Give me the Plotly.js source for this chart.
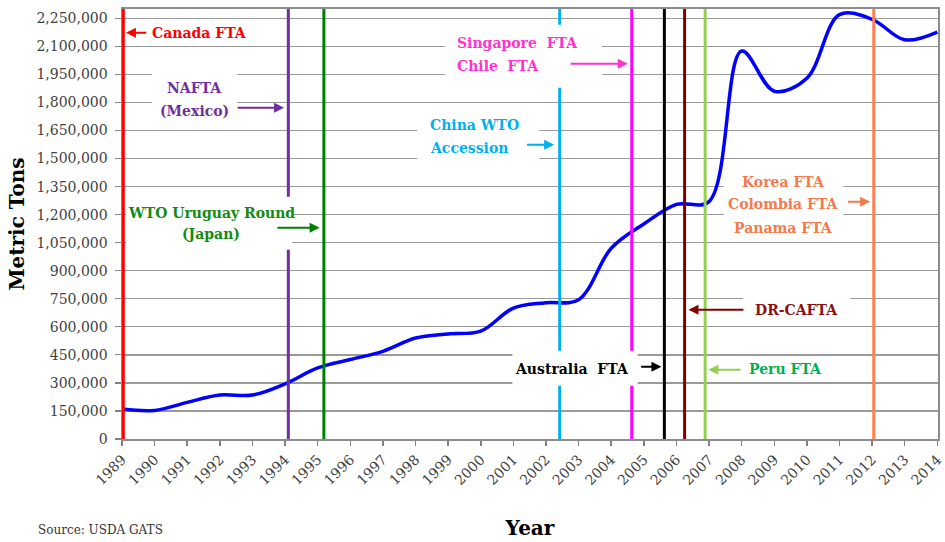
<!DOCTYPE html>
<html>
<head>
<meta charset="utf-8">
<script src="https://cdn.plot.ly/plotly-3.0.1.min.js"></script>
<style>
  html, body { margin: 0; padding: 0; background: #fff; }
  #chart { width: 945px; height: 542px; }
</style>
</head>
<body>
<div id="chart"></div>
<script>
// ---- Data ----
const years = [1989, 1990, 1991, 1992, 1993, 1994, 1995, 1996, 1997, 1998, 1999, 2000, 2001,
               2002, 2003, 2004, 2005, 2006, 2007, 2008, 2009, 2010, 2011, 2012, 2013, 2014];
const metricTons = [160000, 153000, 196000, 235000, 235000, 295000, 380000, 425000, 469000,
                    540000, 562000, 577000, 700000, 729000, 745000, 1020000, 1150000, 1255000,
                    1270000, 2075000, 1860000, 1930000, 2270000, 2245000, 2135000, 2177000];
const yearTickLabels = years.map(String);

// Trade agreement events (vertical lines)
const eventNames  = ['Canada FTA', 'NAFTA (Mexico)', 'WTO Uruguay Round (Japan)', 'China WTO Accession',
                     'Singapore FTA / Chile FTA', 'Australia FTA', 'DR-CAFTA', 'Peru FTA',
                     'Korea FTA / Colombia FTA / Panama FTA'];
const eventYears  = [1989.04, 1994.1, 1995.19, 2002.42, 2004.63, 2005.63, 2006.25, 2006.88, 2012.05];
const eventColors = ['#ff0000', '#7030a0', '#008000', '#00b0f0', '#ff00ff', '#000000', '#800000', '#92d050', '#ff7f50'];

const yTickStep = 150000;
const FONT = 'DejaVu Serif';

// ---- Traces ----
const traces = [{
  type: 'scatter',
  mode: 'lines',
  x: years,
  y: metricTons,
  line: { color: '#0000ff', width: 3.5, shape: 'spline', smoothing: 1 },
  hoverinfo: 'x+y',
  showlegend: false
}];

// ---- Shapes: event lines, then white label boxes ----
const shapes = eventYears.map((yr, i) => ({
  type: 'line', xref: 'x', yref: 'paper', x0: yr, x1: yr, y0: 0, y1: 1,
  line: { color: eventColors[i], width: 3 }, layer: 'above'
}));
function box(x0, x1, y0, y1) {
  return { type: 'rect', xref: 'x', yref: 'y', x0: x0, x1: x1, y0: y0, y1: y1,
           fillcolor: '#ffffff', line: { width: 0 }, layer: 'above' };
}
shapes.push(box(1989.91, 1992.53, 1697000, 2029000));   // NAFTA
shapes.push(box(1989.12, 1994.21, 1012000, 1296000));   // WTO Uruguay
shapes.push(box(1998.90, 2003.72, 1879000, 2216000));   // Singapore / Chile
shapes.push(box(1998.05, 2001.80, 1451000, 1761000));   // China WTO
shapes.push(box(2007.45, 2011.12, 1067000, 1430000));   // Korea / Colombia / Panama
shapes.push(box(2008.04, 2011.33, 627000, 798000));     // DR-CAFTA
shapes.push(box(2000.97, 2004.81, 285000, 472000));     // Australia

// ---- Annotations ----
function label(text, x, y, color, anchor) {
  return { text: '<b>' + text + '</b>', x: x, y: y, xref: 'x', yref: 'y',
           xanchor: anchor || 'center', yanchor: 'middle', showarrow: false,
           font: { family: FONT, size: 14, color: color } };
}
function arrow(x, y, ax, color) {
  return { text: '', x: x, y: y, ax: ax, ay: y, xref: 'x', yref: 'y', axref: 'x', ayref: 'y',
           showarrow: true, arrowhead: 2, arrowsize: 1, arrowwidth: 2, arrowcolor: color,
           standoff: 0, startstandoff: 0 };
}
const annotations = [
  label('Canada FTA', 1989.86, 2173000, '#ff0000', 'left'),
  label('NAFTA', 1991.22, 1879000, '#7030a0'),
  label('(Mexico)', 1991.22, 1756000, '#7030a0'),
  label('WTO Uruguay Round', 1991.73, 1211000, '#138a13'),
  label('(Japan)', 1991.73, 1098000, '#138a13'),
  label('Singapore\u00a0 FTA', 1999.21, 2120000, '#ff33cc', 'left'),
  label('Chile\u00a0 FTA', 1999.21, 1997000, '#ff33cc', 'left'),
  label('China WTO', 1998.38, 1681000, '#00b0f0', 'left'),
  label('Accession', 1998.38, 1558000, '#00b0f0', 'left'),
  label('Korea FTA', 2009.29, 1376000, '#f47a4c'),
  label('Colombia FTA', 2009.29, 1256000, '#f47a4c'),
  label('Panama FTA', 2009.29, 1130000, '#f47a4c'),
  label('DR-CAFTA', 2008.35, 691600, '#8b1010', 'left'),
  label('Australia\u00a0 FTA', 2004.62, 376000, '#000000', 'right'),
  label('Peru FTA', 2008.15, 376000, '#00b050', 'left'),

  arrow(1989.12, 2173000, 1989.79, '#ff0000'),
  arrow(1993.97, 1772000, 1992.50, '#7030a0'),
  arrow(1995.06, 1130000, 1993.72, '#008000'),
  arrow(2004.51, 2007000, 2002.71, '#ff33cc'),
  arrow(2002.25, 1574000, 2001.37, '#00b0f0'),
  arrow(2011.94, 1269000, 2011.21, '#f47a4c'),
  arrow(2006.37, 691600, 2008.10, '#800000'),
  arrow(2005.54, 386700, 2004.87, '#000000'),
  arrow(2006.98, 370700, 2008.01, '#92d050'),

  { text: 'Source: USDA GATS', xref: 'paper', yref: 'paper', x: -0.106, y: -0.211,
    xanchor: 'left', yanchor: 'middle', showarrow: false,
    font: { family: FONT, size: 12, color: '#333333' } }
];

const layout = {
  width: 945, height: 542,
  margin: { l: 122, r: 7, t: 9, b: 103 },
  paper_bgcolor: '#ffffff', plot_bgcolor: '#ffffff',
  showlegend: false,
  xaxis: {
    range: [1989, 2014.02], tickmode: 'array', tickvals: years, ticktext: yearTickLabels,
    tickangle: -45, ticklabeloverflow: 'allow',
    ticks: 'outside', ticklen: 5, tickcolor: '#808080', tickwidth: 1.5,
    showgrid: false, zeroline: false,
    showline: true, linecolor: '#8c8c8c', linewidth: 2, mirror: true,
    tickfont: { family: FONT, size: 14, color: '#404040' },
    title: { text: '<b>Year</b>', font: { family: FONT, size: 20, color: '#000000' }, standoff: 34 },
    automargin: false, fixedrange: true
  },
  yaxis: {
    range: [0, 2300000], dtick: yTickStep, tick0: 0, tickformat: ',d',
    ticks: 'outside', ticklen: 6, tickcolor: '#808080', tickwidth: 1.2,
    showgrid: true, gridcolor: '#9a9a9a', gridwidth: 1.3, zeroline: false,
    showline: true, linecolor: '#8c8c8c', linewidth: 1.5, mirror: true,
    tickfont: { family: FONT, size: 14, color: '#404040' },
    ticklabelstandoff: 4,
    title: { text: '<b>Metric Tons</b>', font: { family: FONT, size: 20, color: '#000000' }, standoff: 6 },
    automargin: false, fixedrange: true
  },
  shapes: shapes,
  annotations: annotations
};

Plotly.newPlot('chart', traces, layout, { displayModeBar: false, staticPlot: true });
</script>
</body>
</html>
